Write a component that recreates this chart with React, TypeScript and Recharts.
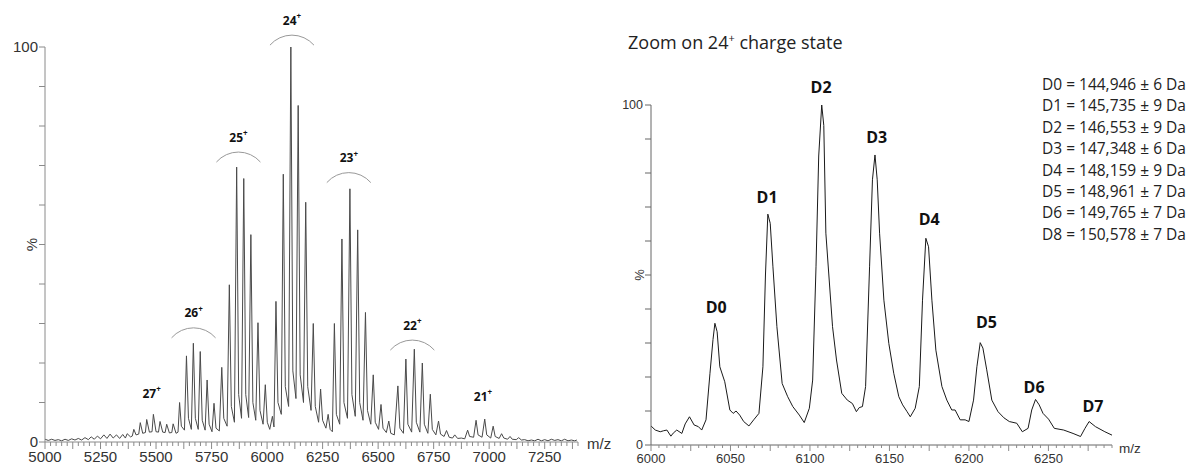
import React from 'react';
import { LineChart, Line, XAxis, YAxis, ReferenceDot } from 'recharts';

// ---- full scan (m/z, % relative intensity) ----
const baseline28 = [
  [5000, 0.7], [5015, 0.4], [5030, 0.7], [5045, 0.4], [5060, 0.6], [5075, 0.3], [5090, 0.7], [5105, 0.4],
  [5120, 0.8], [5135, 0.5], [5150, 0.9], [5165, 0.5], [5180, 1.1], [5195, 0.6], [5208, 1.3], [5222, 0.7],
  [5236, 1.5], [5250, 0.8], [5265, 1.8], [5279, 0.9], [5293, 2.0], [5307, 1.0], [5322, 1.8], [5336, 0.9],
  [5350, 1.9], [5362, 1.0], [5370, 2.1], [5385, 1.3],
];
const z27 = [
  [5393, 1.5], [5400, 3.2], [5410, 1.8], [5422, 2.0], [5429, 4.9], [5440, 2.2], [5452, 2.4], [5458, 5.7],
  [5470, 2.5], [5482, 2.6], [5488, 7.0], [5500, 2.6], [5511, 2.5], [5518, 5.2], [5530, 2.5], [5541, 2.4],
  [5548, 4.5], [5560, 2.3], [5571, 2.4], [5577, 4.6], [5590, 2.2],
];
const z26 = [
  [5599, 2.5], [5606, 10.0], [5614, 4.0], [5628, 3.0], [5637, 21.8], [5646, 6.0], [5659, 3.2], [5668, 25.0],
  [5677, 6.0], [5690, 3.2], [5699, 22.9], [5708, 5.5], [5721, 3.0], [5730, 15.7], [5739, 4.5], [5752, 2.6],
  [5761, 9.8], [5770, 3.5], [5785, 2.8],
];
const z25 = [
  [5796, 18.9], [5805, 6.0], [5820, 4.0], [5830, 39.8], [5839, 9.0], [5853, 5.0], [5863, 69.6], [5872, 12.0],
  [5885, 6.0], [5895, 66.7], [5904, 12.0], [5917, 6.2], [5927, 52.5], [5936, 10.0], [5949, 5.5], [5959, 30.2],
  [5968, 8.0], [5982, 4.5], [5992, 14.5], [6001, 5.0], [6012, 3.2], [6024, 6.5], [6031, 3.8],
];
const z24 = [
  [6040, 35.6], [6049, 10.0], [6064, 7.0], [6073, 67.8], [6082, 14.0], [6097, 9.0], [6107, 100], [6116, 18.0],
  [6130, 11.0], [6140, 85.2], [6149, 17.0], [6164, 10.0], [6174, 60.7], [6183, 14.0], [6198, 8.0], [6208, 30.0],
  [6217, 9.0], [6232, 5.0], [6241, 13.4], [6250, 5.5], [6265, 3.5], [6275, 7.0], [6284, 3.2], [6294, 2.6],
];
const z23 = [
  [6303, 30.0], [6312, 7.0], [6327, 4.5], [6337, 51.4], [6346, 10.0], [6362, 6.0], [6373, 64.1], [6382, 12.0],
  [6397, 6.5], [6408, 53.7], [6417, 10.0], [6432, 5.5], [6443, 32.8], [6452, 8.0], [6467, 4.5], [6478, 17.0],
  [6487, 5.0], [6502, 3.2], [6513, 9.5], [6522, 3.5], [6537, 2.4], [6548, 5.3], [6557, 2.2], [6573, 1.8],
];
const z22 = [
  [6589, 14.2], [6598, 3.5], [6614, 2.2], [6625, 21.0], [6634, 4.5], [6651, 2.5], [6663, 23.5], [6672, 5.0],
  [6688, 2.5], [6699, 20.0], [6708, 4.5], [6724, 2.2], [6735, 12.1], [6744, 3.2], [6760, 1.8], [6772, 5.3],
  [6781, 2.0], [6797, 1.4], [6808, 2.9], [6820, 1.2], [6835, 1.0], [6845, 1.8], [6858, 0.9], [6875, 1.0], [6890, 0.8],
];
const z21 = [
  [6903, 3.0], [6912, 1.4], [6930, 1.2], [6941, 5.5], [6950, 1.8], [6968, 1.2], [6980, 5.8], [6989, 1.8],
  [7007, 1.0], [7018, 4.0], [7027, 1.4], [7045, 0.9], [7056, 2.1], [7066, 1.0], [7083, 0.7], [7094, 1.4],
  [7104, 0.7], [7122, 0.6], [7133, 1.1], [7145, 0.5],
];
const tailHigh = [
  [7160, 0.6], [7175, 0.3], [7190, 0.5], [7205, 0.3], [7220, 0.7], [7235, 0.3], [7250, 0.6], [7265, 0.3],
  [7280, 0.7], [7295, 0.4], [7310, 0.6], [7325, 0.3], [7340, 0.7], [7355, 0.3], [7370, 0.5], [7385, 0.3], [7395, 0.5],
];

// charge state annotations: label centre (m/z, %), arc drawn under the label
const chargeZ = [27, 26, 25, 24, 23, 22, 21];
const chargeMz = [5480, 5669, 5871, 6112, 6368, 6654, 6972];
const chargePct = [12.4, 32.7, 77.2, 106.8, 72.0, 29.6, 11.6];
const chargeArc = [false, true, true, true, true, true, false];

// ---- zoom on 24+ (m/z, %) ----
const zoomScan = [
  [6000, 5.6], [6002.7, 4.4], [6005.8, 3.9], [6008, 4.2], [6010, 4.4], [6012.5, 2.6], [6014, 3.5], [6016.2, 4.4],
  [6019.4, 3.4], [6021.5, 6.2], [6024.2, 8.3], [6027.1, 5.9], [6029.8, 5.4], [6031.9, 4.4], [6034.6, 7.4], [6037.1, 21.1],
  [6039, 31], [6040.2, 35.8], [6041.6, 33.3], [6043.3, 23.0], [6046.4, 18.6], [6049.6, 10.3], [6051.7, 9.3], [6053.5, 10],
  [6055.8, 8.8], [6058.3, 6.9], [6061.6, 5.6], [6064.6, 7.4], [6067.9, 9.3], [6070.4, 23], [6072, 50], [6073.5, 67.9],
  [6075, 65.2], [6076.7, 52.4], [6079.2, 34.8], [6082.5, 18.1], [6086, 14.2], [6089.2, 11.3], [6093.3, 8.8], [6096.4, 6.6],
  [6099.6, 10.8], [6101.7, 19.1], [6103.8, 52.4], [6105.5, 85], [6107.4, 100], [6108.7, 94], [6110, 62.3], [6114.2, 34.8],
  [6116.7, 25], [6120, 15.2], [6123.5, 13.2], [6126.7, 12.2], [6129.2, 9.8], [6131, 11], [6133, 11.3], [6135, 17.2],
  [6137.5, 52.4], [6139.3, 78], [6140.9, 85.3], [6142.3, 78], [6143.8, 62.3], [6146.5, 42.6], [6149.6, 29.9], [6152.7, 21.1],
  [6155.9, 14.2], [6158.3, 11.8], [6161.1, 9.8], [6163.1, 8.3], [6166.2, 10.8], [6168.8, 17.2], [6170.8, 42.6], [6172.9, 60.8],
  [6174.6, 58.3], [6176.7, 42.6], [6179.2, 27.9], [6183, 17.2], [6186.1, 13.2], [6189.2, 10.3], [6191.3, 10.3], [6194.5, 7.4],
  [6197.6, 7.4], [6200, 6.9], [6202.9, 13.2], [6205, 23], [6207.1, 30.1], [6208.8, 28.5], [6211.2, 22.1], [6214.4, 13.2],
  [6218.3, 9.8], [6222, 8], [6225.4, 6.9], [6230.1, 6.4], [6233.6, 3.9], [6237.2, 4.9], [6239.5, 10.3], [6241.9, 13.4],
  [6244.2, 11.8], [6246.6, 9.3], [6250.1, 7.6], [6253.7, 4.9], [6259.6, 4.4], [6265.5, 3.4], [6270.2, 2.5], [6273, 4.9],
  [6275.6, 6.9], [6279.6, 5.4], [6285.5, 3.9], [6290, 2.9],
];

// peak labels (label centre in m/z, %)
const peakNames = ['D0', 'D1', 'D2', 'D3', 'D4', 'D5', 'D6', 'D7'];
const peakMz = [6041, 6073, 6107, 6142, 6175, 6211, 6241, 6278];
const peakPct = [40.7, 73, 105.4, 90.7, 66.4, 36.3, 17, 11.5];

// deconvoluted masses
const massNames = ['D0', 'D1', 'D2', 'D3', 'D4', 'D5', 'D6', 'D8'];
const massValues = ['144,946', '145,735', '146,553', '147,348', '148,159', '148,961', '149,765', '150,578'];
const massErrors = [6, 9, 9, 6, 9, 7, 7, 7];

// axes
const pctTicks = [0, 10, 20, 30, 40, 50, 60, 70, 80, 90, 100];
const fullTicks = Array.from({ length: 97 }, (_, i) => 5000 + 25 * i);
const zoomTicks = Array.from({ length: 59 }, (_, i) => 6000 + 5 * i);

const AXIS = '#8a8a8a';
const TEXT = '#333';
const SANS = '"Liberation Sans", Arial, sans-serif';
const ANN = '"Open Sans", sans-serif';

const toRows = (pairs: number[][]) => pairs.map(([mz, pct]) => ({ mz, pct }));
const fullData = toRows([...baseline28, ...z27, ...z26, ...z25, ...z24, ...z23, ...z22, ...z21, ...tailHigh]);
const zoomData = toRows(zoomScan);

function xTick(labelEvery: number, midEvery: number, shortLen: number, longLen: number, size: number, gap: number) {
  return (props: any) => {
    const { x, y, payload } = props;
    const v = payload.value;
    return (
      <g>
        <line x1={x} x2={x} y1={y} y2={y + (v % midEvery === 0 ? longLen : shortLen)} stroke={AXIS} />
        {v % labelEvery === 0 && (
          <text x={x} y={y + gap} textAnchor="middle" fontSize={size} fill={TEXT} fontFamily={SANS}>
            {v}
          </text>
        )}
      </g>
    );
  };
}

function MzLabel({ viewBox, dx, dy, size }: any) {
  const x = viewBox.x + viewBox.width + dx;
  const y = viewBox.y + dy;
  return (
    <text x={x} y={y} dominantBaseline="central" fontSize={size} fill={TEXT} fontFamily={SANS}>
      m/z
    </text>
  );
}

function PctLabel({ viewBox, dx, size }: any) {
  const x = viewBox.x + viewBox.width - dx;
  const y = viewBox.y + viewBox.height / 2;
  return (
    <text x={x} y={y} transform={`rotate(-90 ${x} ${y})`} textAnchor="middle" dominantBaseline="central"
      fontSize={size} fill={TEXT} fontFamily={SANS}>
      %
    </text>
  );
}

const chargeShape = (z: number, arc: boolean) => (props: any) => {
  const { cx, cy } = props;
  const top = cy + 15;
  return (
    <g>
      <text x={cx} y={cy} textAnchor="middle" dominantBaseline="central" fontSize={12} fontWeight={700}
        fill="#111" fontFamily={ANN}>
        {z}
        <tspan fontSize={8} dy={-5}>+</tspan>
      </text>
      {arc && (
        <path d={`M ${cx - 22} ${top + 10} A 29.2 29.2 0 0 1 ${cx + 22} ${top + 10}`} fill="none" stroke="#999" />
      )}
    </g>
  );
};

const peakShape = (name: string) => (props: any) => (
  <text x={props.cx} y={props.cy} textAnchor="middle" dominantBaseline="central" fontSize={16} fontWeight={700}
    fill="#111" fontFamily={ANN}>
    {name}
  </text>
);

const pctFmt = (v: number) => (v === 0 || v === 100 ? String(v) : '');

export default function App() {
  return (
    <div style={{ position: 'absolute', left: 0, top: 0, width: 1187, height: 466, background: '#fff', fontFamily: ANN }}>
      {/* full scan */}
      <div style={{ position: 'absolute', left: 0, top: 0 }}>
        <LineChart width={620} height={466} data={fullData} margin={{ top: 47, right: 42, bottom: 0, left: 9 }}>
          <XAxis
            type="number"
            dataKey="mz"
            domain={[5000, 7400]}
            ticks={fullTicks}
            interval={0}
            tickLine={false}
            tickSize={0}
            tickMargin={0}
            tick={xTick(250, 125, 4, 7, 15, 20)}
            axisLine={{ stroke: AXIS }}
            height={24}
            allowDataOverflow
            label={<MzLabel dx={9} dy={1} size={15} />}
          />
          <YAxis
            type="number"
            domain={[0, 100]}
            ticks={pctTicks}
            interval={0}
            width={36}
            tickSize={6}
            tickMargin={1}
            tickFormatter={pctFmt}
            tick={{ fontSize: 15, fill: TEXT, fontFamily: SANS }}
            tickLine={{ stroke: AXIS }}
            axisLine={{ stroke: AXIS }}
            label={<PctLabel dx={14} size={15} />}
          />
          <Line dataKey="pct" type="linear" stroke="#4a4a4a" strokeWidth={1} dot={false} isAnimationActive={false} />
          {chargeZ.map((z, i) => (
            <ReferenceDot key={z} x={chargeMz[i]} y={chargePct[i]} ifOverflow="visible" shape={chargeShape(z, chargeArc[i])} />
          ))}
        </LineChart>
      </div>

      {/* zoom on 24+ */}
      <div style={{ position: 'absolute', left: 600, top: 0 }}>
        <LineChart width={587} height={466} data={zoomData} margin={{ top: 105, right: 75, bottom: 0, left: 15 }}>
          <XAxis
            type="number"
            dataKey="mz"
            domain={[6000, 6290]}
            ticks={zoomTicks}
            interval={0}
            tickLine={false}
            tickSize={0}
            tickMargin={0}
            tick={xTick(50, 25, 3, 6, 13, 18)}
            axisLine={{ stroke: '#666' }}
            height={21}
            allowDataOverflow
            label={<MzLabel dx={7} dy={3} size={13.5} />}
          />
          <YAxis
            type="number"
            domain={[0, 100]}
            ticks={pctTicks}
            interval={0}
            width={36}
            tickSize={6}
            tickMargin={2}
            tickFormatter={pctFmt}
            tick={{ fontSize: 12.5, fill: TEXT, fontFamily: SANS }}
            tickLine={{ stroke: '#666' }}
            axisLine={{ stroke: '#666' }}
            label={<PctLabel dx={12} size={13} />}
          />
          <Line dataKey="pct" type="linear" stroke="#1a1a1a" strokeWidth={1} dot={false} isAnimationActive={false} />
          {peakNames.map((n, i) => (
            <ReferenceDot key={n} x={peakMz[i]} y={peakPct[i]} ifOverflow="visible" shape={peakShape(n)} />
          ))}
        </LineChart>
      </div>

      <div style={{ position: 'absolute', left: 628, top: 30, fontSize: 18, lineHeight: '24px', color: '#222', whiteSpace: 'nowrap' }}>
        Zoom on 24<span style={{ fontSize: 11, verticalAlign: 'super', lineHeight: 0 }}>+</span> charge state
      </div>

      <div style={{ position: 'absolute', left: 1042, top: 74, fontSize: 15.5, lineHeight: '21.4px', color: '#222', whiteSpace: 'nowrap' }}>
        {massNames.map((n, i) => (
          <div key={n}>
            {n} = {massValues[i]} ± {massErrors[i]} Da
          </div>
        ))}
      </div>
    </div>
  );
}
